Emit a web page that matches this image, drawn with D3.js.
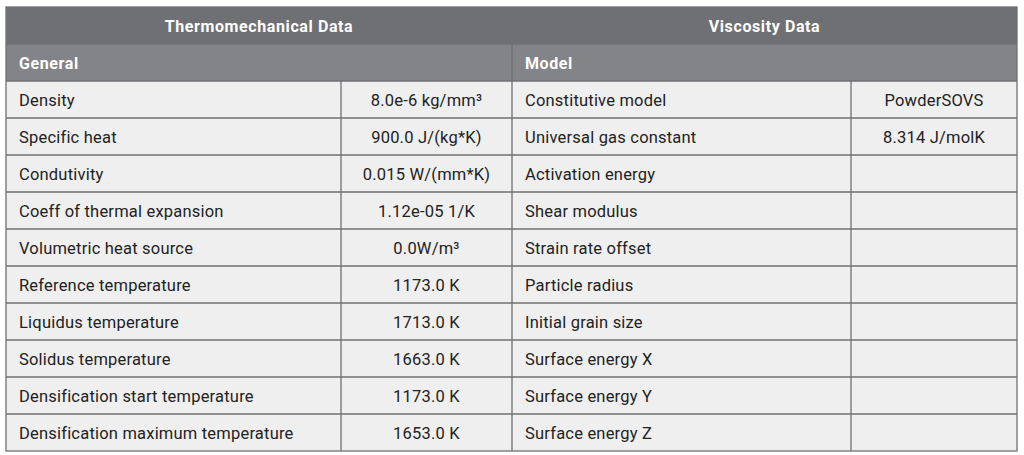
<!DOCTYPE html>
<html><head><meta charset="utf-8">
<script src="https://cdn.jsdelivr.net/npm/d3@7"></script>
<style>body{margin:0;background:#fff}</style>
</head><body><div class="table"></div>
<script>
const sections = ['Thermomechanical Data', 'Viscosity Data'];
const subSections = ['General', 'Model'];
const thermoLabels = ['Density', 'Specific heat', 'Condutivity', 'Coeff of thermal expansion', 'Volumetric heat source',
    'Reference temperature', 'Liquidus temperature', 'Solidus temperature', 'Densification start temperature', 'Densification maximum temperature'];
const thermoValues = ['8.0e-6 kg/mm³', '900.0 J/(kg*K)', '0.015 W/(mm*K)', '1.12e-05 1/K', '0.0W/m³',
    '1173.0 K', '1713.0 K', '1663.0 K', '1173.0 K', '1653.0 K'];
const viscLabels = ['Constitutive model', 'Universal gas constant', 'Activation energy', 'Shear modulus', 'Strain rate offset',
    'Particle radius', 'Initial grain size', 'Surface energy X', 'Surface energy Y', 'Surface energy Z'];
const viscValues = ['PowderSOVS', '8.314 J/molK', '', '', '', '', '', '', '', ''];

const cols = [6, 341, 512, 851, 1017];
const tableTop = 7, headH = 37, subH = 37, rowH = 37;
const line = '#6f7073';
const font = 'Roboto, "DejaVu Sans", sans-serif';

const svg = d3.select('.table').append('svg').attr('width', 1024).attr('height', 455);

const y = d3.scaleBand().domain(d3.range(thermoLabels.length)).range([tableTop + headH + subH, tableTop + headH + subH + rowH * thermoLabels.length]);

svg.append('rect').attr('x', cols[0]).attr('y', tableTop).attr('width', cols[4] - cols[0]).attr('height', headH).attr('fill', '#6f7073');
svg.append('rect').attr('x', cols[0]).attr('y', tableTop + headH).attr('width', cols[4] - cols[0]).attr('height', subH).attr('fill', '#838487');
svg.append('rect').attr('x', cols[0]).attr('y', y(0)).attr('width', cols[4] - cols[0]).attr('height', rowH * thermoLabels.length).attr('fill', '#efefef');

sections.forEach((s, i) => {
    const x0 = cols[i * 2], x1 = cols[i * 2 + 2];
    svg.append('text').attr('x', (x0 + x1) / 2).attr('y', tableTop + headH / 2 + 6).attr('text-anchor', 'middle')
    .attr('fill', '#fff').attr('font-family', font).attr('font-weight', 'bold').attr('font-size', 16).attr('letter-spacing', 0.6).text(s);
});
subSections.forEach((s, i) => {
    svg.append('text').attr('x', cols[i * 2] + 13).attr('y', tableTop + headH + subH / 2 + 6)
    .attr('fill', '#fff').attr('font-family', font).attr('font-weight', 'bold').attr('font-size', 16).attr('letter-spacing', 0.6).text(s);
});

const columns = [[thermoLabels, 'start'], [thermoValues, 'middle'], [viscLabels, 'start'], [viscValues, 'middle']];
columns.forEach(([vals, anchor], c) => {
    svg.selectAll(null).data(vals).enter().append('text')
    .attr('x', anchor === 'start' ? cols[c] + 13 : (cols[c] + cols[c + 1]) / 2)
    .attr('y', (d, i) => y(i) + rowH / 2 + 6)
    .attr('text-anchor', anchor)
    .attr('fill', '#222').attr('font-family', font).attr('font-size', 16.5).attr('letter-spacing', 0.2)
    .text(d => d);
});

// grid lines
const h = (yy) => svg.append('line').attr('x1', cols[0]).attr('x2', cols[4]).attr('y1', yy).attr('y2', yy).attr('stroke', line).attr('stroke-width', 1.3);
h(tableTop + headH);
d3.range(thermoLabels.length).forEach(i => h(y(i)));
[cols[1], cols[3]].forEach(x => svg.append('line').attr('x1', x).attr('x2', x).attr('y1', y(0)).attr('y2', y.range()[1]).attr('stroke', line).attr('stroke-width', 1.3));
svg.append('line').attr('x1', cols[2]).attr('x2', cols[2]).attr('y1', tableTop).attr('y2', y.range()[1]).attr('stroke', line).attr('stroke-width', 1.3);
svg.append('rect').attr('x', cols[0]).attr('y', tableTop).attr('width', cols[4] - cols[0]).attr('height', y.range()[1] - tableTop)
.attr('fill', 'none').attr('stroke', line).attr('stroke-width', 1.3);
</script></body></html>
